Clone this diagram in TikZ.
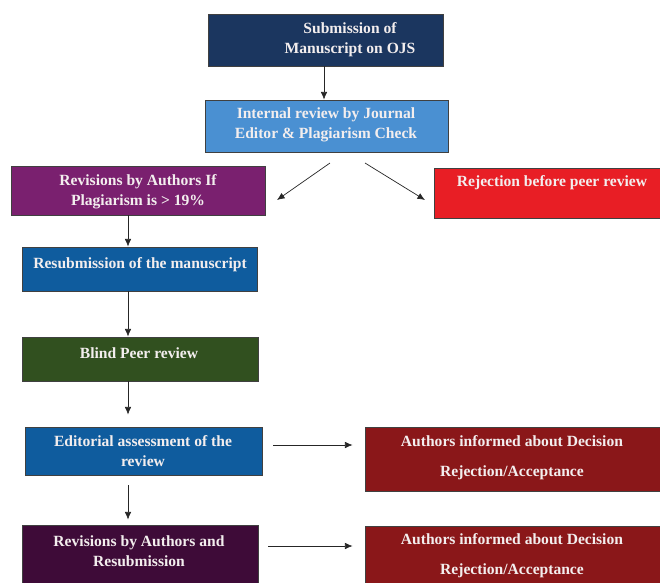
\documentclass[tikz,border=0pt]{standalone}
\usepackage{fontspec}
\setmainfont{Liberation Serif}
\usetikzlibrary{arrows.meta,fit}
\definecolor{cNavy}{HTML}{1B365F}
\definecolor{cLight}{HTML}{4A90D2}
\definecolor{cPurple}{HTML}{7A206F}
\definecolor{cRed}{HTML}{E81E25}
\definecolor{cBlue}{HTML}{0F5C9E}
\definecolor{cGreen}{HTML}{31501F}
\definecolor{cPlum}{HTML}{3E0B38}
\definecolor{cMaroon}{HTML}{8A1719}
\definecolor{cText}{HTML}{F3EEEE}
\tikzset{
  box/.style={draw=black!75, line width=0.7pt, inner sep=0pt, rectangle},
  txt/.style={text=cText, font=\fontsize{13.3}{17}\selectfont\bfseries, align=center, inner sep=0pt},
  txtw/.style={text=cText, font=\fontsize{13.3}{25.5}\selectfont\bfseries, align=center, inner sep=0pt},
  arr/.style={draw=black!85, line width=0.6pt, -{Latex[length=6.5pt,width=5.5pt]}}
}
\begin{document}
\begin{tikzpicture}[x=0.03cm,y=-0.03cm]
\useasboundingbox (0,0) rectangle (660,583);
\fill[white] (0,0) rectangle (660,583);
\clip (0,0) rectangle (660,583);
% boxes
\node[box, fill=cNavy, fit={(208,14)(443,66)}] (b1) {};
\node[box, fill=cLight, fit={(205,100)(448,152)}] (b2) {};
\node[box, fill=cPurple, fit={(11,166)(265,215)}] (b3) {};
\node[box, fill=cRed, fit={(434,168)(668,218)}] (b4) {};
\node[box, fill=cBlue, fit={(22,247)(257,291)}] (b5) {};
\node[box, fill=cGreen, fit={(22,337)(258,381)}] (b6) {};
\node[box, fill=cBlue, fit={(25,427)(262,475)}] (b7) {};
\node[box, fill=cPlum, fit={(22,525)(258,592)}] (b8) {};
\node[box, fill=cMaroon, fit={(365,427)(668,491)}] (b9) {};
\node[box, fill=cMaroon, fit={(365,526)(668,592)}] (b10) {};
% texts
\node[txt] (t1) at (350,40) {Submission of\\Manuscript on OJS};
\node[txt] (t2) at (326,125) {Internal review by Journal\\Editor \& Plagiarism Check};
\node[txt] (t3) at (138,192) {Revisions by Authors If\\Plagiarism is > 19\%};
\node[txt] (t4) at (552,183) {Rejection before peer review};
\node[txt] (t5) at (140,265) {Resubmission of the manuscript};
\node[txt] (t6) at (139,353) {Blind Peer review};
\node[txt] (t7) at (143,451) {Editorial assessment of the\\review};
\node[txt] (t8) at (139,551) {Revisions by Authors and\\Resubmission};
\node[txtw] (t9) at (512,458) {Authors informed about Decision\\Rejection/Acceptance};
\node[txtw] (t10) at (512,556) {Authors informed about Decision\\Rejection/Acceptance};
% helper coordinates
\coordinate (ax) at (128,0);
\coordinate (d1s) at (330,163);
\coordinate (d1e) at (277,200);
\coordinate (d2s) at (365,163);
\coordinate (d2e) at (425,200);
\coordinate (r1) at (0,445);
\coordinate (r2) at (0,546);
% connectors
\draw[arr] (b1.south -| 324,0) -- (b2.north -| 324,0);
\draw[arr] (d1s) -- (d1e);
\draw[arr] (d2s) -- (d2e);
\draw[arr] (b3.south -| ax) -- (b5.north -| ax);
\draw[arr] (b5.south -| ax) -- (b6.north -| ax);
\draw[arr, shorten >=12*0.03cm] (b6.south -| ax) -- (b7.north -| ax);
\draw[arr, shorten <=10*0.03cm, shorten >=5*0.03cm] (b7.south -| ax) -- (b8.north -| ax);
\draw[arr, shorten <=11*0.03cm, shorten >=12*0.03cm] (b7.east |- r1) -- (b9.west |- r1);
\draw[arr, shorten <=10*0.03cm, shorten >=12*0.03cm] (b8.east |- r2) -- (b10.west |- r2);
\end{tikzpicture}
\end{document}
